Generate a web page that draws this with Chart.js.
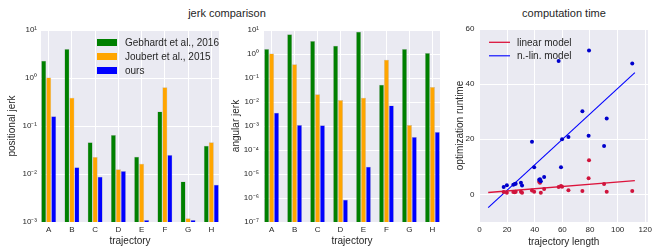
<!DOCTYPE html>
<html>
<head>
<meta charset="utf-8">
<script src="https://cdn.jsdelivr.net/npm/chart.js@4"></script>
<style>
  html, body { margin: 0; padding: 0; background: #fff; }
  #wrap {
    position: relative; width: 652px; height: 251px; overflow: hidden;
    font-family: "Liberation Sans", Arial, sans-serif; color: #262626;
  }
  canvas { position: absolute; top: 0; }
  .title {
    position: absolute; top: 7px; font-size: 11px; line-height: 13px;
    transform: translateX(-50%); white-space: nowrap;
  }
</style>
</head>
<body>
<div id="wrap">
  <div class="title" style="left:227px">jerk comparison</div>
  <div class="title" style="left:564px">computation time</div>
  <canvas id="chart-pos" width="226" height="251" style="left:0;width:226px;height:251px"></canvas>
  <canvas id="chart-ang" width="216" height="251" style="left:226px;width:216px;height:251px"></canvas>
  <canvas id="chart-time" width="210" height="251" style="left:442px;width:210px;height:251px"></canvas>
</div>
<script>
const TEXT = "#262626";
const PANEL_BG = "#eaeaf2";
const FONT = "'Liberation Sans', Arial, sans-serif";

Chart.defaults.font = { family: FONT, size: 8 };
Chart.defaults.color = TEXT;

const TRAJECTORIES = ["A", "B", "C", "D", "E", "F", "G", "H"];
const METHODS = ["Gebhardt et al., 2016", "Joubert et al., 2015", "ours"];
const METHOD_COLORS = ["#008000", "#ffa500", "#0000ff"];

// positional jerk
const POS_GEBHARDT = [2.3, 4.0, 0.046, 0.065, 0.023, 0.2, 0.007, 0.039];
const POS_JOUBERT = [1.03, 0.39, 0.0226, 0.0126, 0.0164, 0.64, 0.0012, 0.046];
const POS_OURS = [0.16, 0.0138, 0.0088, 0.0115, 0.0011, 0.025, 0.0011, 0.006];
const POS_TICKS = [1e-3, 1e-2, 1e-1, 1, 10];
const POS_TICK_LABELS = ["10⁻³", "10⁻²", "10⁻¹", "10⁰", "10¹"];

// angular jerk
const ANG_GEBHARDT = [1.6, 6.6, 3.5, 2.2, 8.5, 0.052, 1.6, 1.1];
const ANG_JOUBERT = [1.05, 0.37, 0.021, 0.012, 0.015, 0.57, 0.0011, 0.042];
const ANG_OURS = [0.0036, 0.0011, 0.00107, 8.5e-7, 2e-5, 0.0071, 0.00035, 0.00056];
const ANG_TICKS = [1e-7, 1e-6, 1e-5, 1e-4, 1e-3, 1e-2, 1e-1, 1, 10];
const ANG_TICK_LABELS = ["10⁻⁷", "10⁻⁶", "10⁻⁵", "10⁻⁴", "10⁻³", "10⁻²", "10⁻¹", "10⁰", "10¹"];

// computation time
const TRAJ_LENGTH = [17.5, 19.8, 24.5, 25.5, 26.2, 30.0, 30.8, 38.0, 39.6, 43.2, 43.8, 44.4,
  46.8, 57.3, 59.0, 59.8, 64.4, 74.5, 79.0, 79.3, 90.2, 92.1, 110.6];
const TIME_NONLINEAR = [2.7, 3.3, 3.5, 3.8, 3.9, 4.2, 3.2, 19.1, 9.9, 5.3, 5.5, 4.8,
  6.3, 48.4, 9.9, 20.0, 20.8, 30.2, 21.3, 52.2, 17.6, 27.5, 47.5];
const TIME_LINEAR = [0.9, 0.6, 0.9, 0.8, 1.0, 1.0, 0.6, 1.4, 1.0, 4.6, 4.2, 0.6,
  2.0, 2.7, 3.1, 2.8, 1.5, 1.2, 5.9, 12.4, 3.8, 1.0, 1.2];
const FIT_X = [6.3, 112.5];
const FIT_LINEAR = [0.7, 5.0];
const FIT_NONLINEAR = [-4.8, 44.2];
const LENGTH_TICKS = [0, 20, 40, 60, 80, 100, 120];
const RUNTIME_TICKS = [0, 20, 40, 60];

const panelBackground = {
  id: "panelBackground",
  beforeDraw(chart) {
    const { ctx, chartArea: a } = chart;
    ctx.save();
    ctx.fillStyle = PANEL_BG;
    ctx.fillRect(a.left, a.top, a.width, a.height);
    ctx.restore();
  },
};

const insideLegend = {
  id: "insideLegend",
  afterDraw(chart, args, opts) {
    const { ctx, chartArea } = chart;
    ctx.save();
    ctx.font = `10px ${FONT}`;
    ctx.textBaseline = "middle";
    chart.data.datasets.filter((ds) => ds.label).forEach((ds, i) => {
      const x = chartArea.left + opts.left;
      const y = chartArea.top + opts.top + i * opts.rowHeight;
      if (opts.symbol === "line") {
        ctx.strokeStyle = ds.borderColor;
        ctx.lineWidth = ds.borderWidth;
        ctx.beginPath();
        ctx.moveTo(x, y);
        ctx.lineTo(x + opts.symbolWidth, y);
        ctx.stroke();
      } else {
        ctx.fillStyle = ds.backgroundColor;
        ctx.fillRect(x, y - 3.5, opts.symbolWidth, 7);
      }
      ctx.fillStyle = TEXT;
      ctx.fillText(ds.label, x + opts.symbolWidth + opts.gap, y + 0.5);
    });
    ctx.restore();
  },
};

function jerkChart(id, series, ticks, tickLabels, yTitle, box, legend) {
  const plugins = [panelBackground];
  if (legend) plugins.push(insideLegend);
  new Chart(document.getElementById(id), {
    type: "bar",
    data: {
      datasets: series.map((vals, k) => ({
        label: METHODS[k],
        data: vals.map((v, i) => ({ x: i, y: v })),
        backgroundColor: METHOD_COLORS[k],
        borderColor: "rgba(150, 150, 150, 0.6)",
        borderWidth: 0.5,
        categoryPercentage: 0.645,
        barPercentage: 1.0,
      })),
    },
    plugins,
    options: {
      responsive: false,
      animation: false,
      layout: { padding: { top: 30, right: box.right, left: 0, bottom: 0 } },
      plugins: {
        legend: { display: false },
        tooltip: { enabled: false },
        insideLegend: legend,
      },
      scales: {
        x: {
          type: "linear",
          offset: false,
          min: -0.33,
          max: TRAJECTORIES.length - 0.67,
          grid: { color: "#ffffff", drawTicks: false, offset: false },
          border: { display: false },
          ticks: { padding: 3, autoSkip: false, maxRotation: 0, callback: (v) => TRAJECTORIES[v] },
          afterBuildTicks: (s) => { s.ticks = TRAJECTORIES.map((c, i) => ({ value: i })); },
          afterFit: (s) => { s.height = 29; s.paddingLeft = 0; s.paddingRight = 0; },
          title: { display: true, text: "trajectory", font: { size: 10 }, padding: { bottom: 4 } },
        },
        y: {
          type: "logarithmic",
          min: ticks[0],
          max: ticks[ticks.length - 1],
          grid: { color: "#ffffff", drawTicks: false },
          border: { display: false },
          ticks: { padding: box.tickPad, autoSkip: false, callback: (v) => tickLabels[ticks.indexOf(v)] },
          afterBuildTicks: (s) => { s.ticks = ticks.map((v) => ({ value: v })); },
          afterFit: (s) => { s.width = box.yWidth; },
          title: { display: true, text: yTitle, font: { size: 10 }, padding: { top: box.titlePad } },
        },
      },
    },
  });
}

function initTimeChart() {
  new Chart(document.getElementById("chart-time"), {
    type: "scatter",
    data: {
      datasets: [
        {
          label: "linear model",
          type: "line",
          data: FIT_X.map((x, i) => ({ x, y: FIT_LINEAR[i] })),
          borderColor: "#dc143c",
          borderWidth: 1.3,
          pointRadius: 0,
          order: 3,
        },
        {
          label: "n.-lin. model",
          type: "line",
          data: FIT_X.map((x, i) => ({ x, y: FIT_NONLINEAR[i] })),
          borderColor: "#0000ff",
          borderWidth: 1.1,
          pointRadius: 0,
          order: 4,
        },
        {
          data: TRAJ_LENGTH.map((x, i) => ({ x, y: TIME_NONLINEAR[i] })),
          backgroundColor: "#0000cc",
          borderWidth: 0,
          pointRadius: 2,
          order: 1,
        },
        {
          data: TRAJ_LENGTH.map((x, i) => ({ x, y: TIME_LINEAR[i] })),
          backgroundColor: "#d0143c",
          borderWidth: 0,
          pointRadius: 2,
          order: 2,
        },
      ],
    },
    plugins: [panelBackground, insideLegend],
    options: {
      responsive: false,
      animation: false,
      layout: { padding: { top: 29, right: 1, left: 0, bottom: 0 } },
      plugins: {
        legend: { display: false },
        tooltip: { enabled: false },
        insideLegend: { left: 9.5, top: 13.3, rowHeight: 13.5, symbol: "line", symbolWidth: 21, gap: 7 },
      },
      scales: {
        x: {
          type: "linear",
          min: 0,
          max: 122,
          grid: { color: "#ffffff", drawTicks: false },
          border: { display: false },
          ticks: { padding: 3, autoSkip: false, maxRotation: 0 },
          afterBuildTicks: (s) => { s.ticks = LENGTH_TICKS.map((v) => ({ value: v })); },
          afterFit: (s) => { s.height = 29; s.paddingLeft = 0; s.paddingRight = 0; },
          title: { display: true, text: "trajectory length", font: { size: 10 }, padding: { bottom: 3 } },
        },
        y: {
          type: "linear",
          min: -10,
          max: 60,
          grid: { color: "#ffffff", drawTicks: false },
          border: { display: false },
          ticks: { padding: 5, autoSkip: false },
          afterBuildTicks: (s) => { s.ticks = RUNTIME_TICKS.map((v) => ({ value: v })); },
          afterFit: (s) => { s.width = 37.5; },
          title: { display: true, text: "optimization runtime", font: { size: 10 }, padding: { top: 12 } },
        },
      },
    },
  });
}

jerkChart("chart-pos", [POS_GEBHARDT, POS_JOUBERT, POS_OURS], POS_TICKS, POS_TICK_LABELS,
  "positional jerk", { yWidth: 41, right: 7, tickPad: 4, titlePad: 6.5 },
  { left: 56, top: 12.5, rowHeight: 14, symbol: "box", symbolWidth: 20, gap: 8 });
jerkChart("chart-ang", [ANG_GEBHARDT, ANG_JOUBERT, ANG_OURS], ANG_TICKS, ANG_TICK_LABELS,
  "angular jerk", { yWidth: 38, right: 2, tickPad: 5, titlePad: 4 }, null);
initTimeChart();
</script>
</body>
</html>
